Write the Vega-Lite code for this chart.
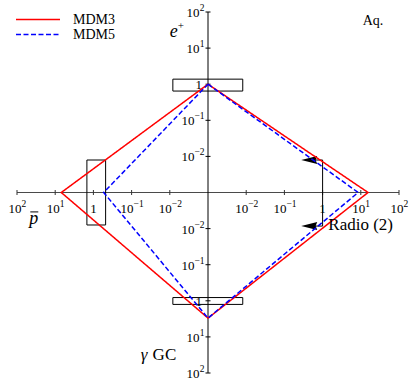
{
  "$schema": "https://vega.github.io/schema/vega-lite/v6.json",
  "width": 382,
  "height": 361,
  "autosize": {"type": "none"},
  "padding": {"left": 17, "top": 12, "right": 11, "bottom": 8},
  "config": {"view": {"stroke": null}, "font": "Liberation Serif"},
  "datasets": {
    "curves": [
      {"model": "MDM3", "seq": 0, "x": 0, "y": 3.0},
      {"model": "MDM3", "seq": 1, "x": 4.19, "y": 0},
      {"model": "MDM3", "seq": 2, "x": 0, "y": -3.48},
      {"model": "MDM3", "seq": 3, "x": -3.84, "y": 0},
      {"model": "MDM3", "seq": 4, "x": 0, "y": 3.0},
      {"model": "MDM5", "seq": 0, "x": 0, "y": 3.0},
      {"model": "MDM5", "seq": 1, "x": 3.93, "y": 0},
      {"model": "MDM5", "seq": 2, "x": 0, "y": -3.48},
      {"model": "MDM5", "seq": 3, "x": -2.73, "y": 0},
      {"model": "MDM5", "seq": 4, "x": 0, "y": 3.0}
    ],
    "axes": [
      {"dir": "h", "x": -5, "x2": 5, "y": 0, "y2": 0},
      {"dir": "v", "x": 0, "x2": 0, "y": -5, "y2": 5}
    ],
    "xticks": [
      {"x": -5, "base": "10", "exp": "2"}, {"x": -4, "base": "10", "exp": "1"}, {"x": -3, "base": "1", "exp": ""},
      {"x": -2, "base": "10", "exp": "−1"}, {"x": -1, "base": "10", "exp": "−2"},
      {"x": 1, "base": "10", "exp": "−2"}, {"x": 2, "base": "10", "exp": "−1"}, {"x": 3, "base": "1", "exp": ""},
      {"x": 4, "base": "10", "exp": "1"}, {"x": 5, "base": "10", "exp": "2"}
    ],
    "yticks": [
      {"y": 5, "base": "10", "exp": "2"}, {"y": 4, "base": "10", "exp": "1"}, {"y": 3, "base": "1", "exp": ""},
      {"y": 2, "base": "10", "exp": "−1"}, {"y": 1, "base": "10", "exp": "−2"},
      {"y": -1, "base": "10", "exp": "−2"}, {"y": -2, "base": "10", "exp": "−1"}, {"y": -3, "base": "1", "exp": ""},
      {"y": -4, "base": "10", "exp": "1"}, {"y": -5, "base": "10", "exp": "2"}
    ],
    "boxes": [
      {"x": -0.92, "x2": 0.91, "y": 2.81, "y2": 3.14},
      {"x": -3.17, "x2": -2.68, "y": -0.9, "y2": 0.9},
      {"x": -0.92, "x2": 0.91, "y": -3.10, "y2": -2.91}
    ],
    "links": [
      {"x": 3.0, "x2": 3.0, "y": 0.9, "y2": -0.93},
      {"x": 2.62, "x2": 3.0, "y": 0.9, "y2": 0.9},
      {"x": 2.62, "x2": 3.0, "y": -0.93, "y2": -0.93}
    ],
    "heads": [
      {"x": 2.65, "y": 0.9},
      {"x": 2.65, "y": -0.93}
    ],
    "notes": [
      {"text": "p̄", "x": -4.56, "y": -0.87},
      {"text": "e⁺", "x": -0.83, "y": 4.31},
      {"text": "γ", "x": -1.76, "y": -4.64},
      {"text": "GC", "x": -1.45, "y": -4.64},
      {"text": "Radio (2)", "x": 3.15, "y": -1.04},
      {"text": "Aq.", "x": 4.05, "y": 4.64}
    ]
  },
  "layer": [
    {
      "data": {"name": "axes"},
      "transform": [{"filter": "datum.dir === 'h'"}],
      "mark": {"type": "rule", "color": "#4a4a4a", "strokeWidth": 1.2},
      "encoding": {
        "x": {"field": "x", "type": "quantitative", "scale": {"domain": [-5, 5], "nice": false, "zero": false}, "axis": null},
        "y": {"field": "y", "type": "quantitative", "scale": {"domain": [-5, 5], "nice": false, "zero": false}, "axis": null},
        "x2": {"field": "x2"}, "y2": {"field": "y2"}
      }
    },
    {
      "data": {"name": "axes"},
      "transform": [{"filter": "datum.dir === 'v'"}],
      "mark": {"type": "rule", "color": "black", "strokeWidth": 1},
      "encoding": {
        "x": {"field": "x", "type": "quantitative", "scale": {"domain": [-5, 5], "nice": false, "zero": false}, "axis": null},
        "y": {"field": "y", "type": "quantitative", "scale": {"domain": [-5, 5], "nice": false, "zero": false}, "axis": null},
        "x2": {"field": "x2"}, "y2": {"field": "y2"}
      }
    },
    {
      "data": {"name": "xticks"},
      "mark": {"type": "tick", "orient": "vertical", "size": 5, "thickness": 1, "color": "#333", "opacity": 1},
      "encoding": {
        "x": {"field": "x", "type": "quantitative", "scale": {"domain": [-5, 5], "nice": false, "zero": false}, "axis": null},
        "y": {"datum": 0, "type": "quantitative", "scale": {"domain": [-5, 5], "nice": false, "zero": false}, "axis": null}
      }
    },
    {
      "data": {"name": "yticks"},
      "mark": {"type": "tick", "orient": "horizontal", "size": 5, "thickness": 1, "color": "black", "opacity": 1},
      "encoding": {
        "x": {"datum": 0, "type": "quantitative", "scale": {"domain": [-5, 5], "nice": false, "zero": false}, "axis": null},
        "y": {"field": "y", "type": "quantitative", "scale": {"domain": [-5, 5], "nice": false, "zero": false}, "axis": null}
      }
    },
    {
      "data": {"name": "xticks"},
      "transform": [{"filter": "datum.exp.length === 1"}],
      "mark": {"type": "text", "font": "Liberation Serif", "fontSize": 13, "align": "right", "baseline": "alphabetic", "dx": 4.5, "dy": 20.5, "color": "black"},
      "encoding": {
        "x": {"field": "x", "type": "quantitative", "scale": {"domain": [-5, 5], "nice": false, "zero": false}, "axis": null},
        "y": {"datum": 0, "type": "quantitative", "scale": {"domain": [-5, 5], "nice": false, "zero": false}, "axis": null},
        "text": {"field": "base"}
      }
    },
    {
      "data": {"name": "xticks"},
      "transform": [{"filter": "datum.exp.length === 1"}],
      "mark": {"type": "text", "font": "Liberation Serif", "fontSize": 9.5, "align": "left", "baseline": "alphabetic", "dx": 4.5, "dy": 14.5, "color": "black"},
      "encoding": {
        "x": {"field": "x", "type": "quantitative", "scale": {"domain": [-5, 5], "nice": false, "zero": false}, "axis": null},
        "y": {"datum": 0, "type": "quantitative", "scale": {"domain": [-5, 5], "nice": false, "zero": false}, "axis": null},
        "text": {"field": "exp"}
      }
    },
    {
      "data": {"name": "xticks"},
      "transform": [{"filter": "datum.exp.length === 2"}],
      "mark": {"type": "text", "font": "Liberation Serif", "fontSize": 13, "align": "right", "baseline": "alphabetic", "dx": 2, "dy": 20.5, "color": "black"},
      "encoding": {
        "x": {"field": "x", "type": "quantitative", "scale": {"domain": [-5, 5], "nice": false, "zero": false}, "axis": null},
        "y": {"datum": 0, "type": "quantitative", "scale": {"domain": [-5, 5], "nice": false, "zero": false}, "axis": null},
        "text": {"field": "base"}
      }
    },
    {
      "data": {"name": "xticks"},
      "transform": [{"filter": "datum.exp.length === 2"}],
      "mark": {"type": "text", "font": "Liberation Serif", "fontSize": 9.5, "align": "left", "baseline": "alphabetic", "dx": 2, "dy": 14.5, "color": "black"},
      "encoding": {
        "x": {"field": "x", "type": "quantitative", "scale": {"domain": [-5, 5], "nice": false, "zero": false}, "axis": null},
        "y": {"datum": 0, "type": "quantitative", "scale": {"domain": [-5, 5], "nice": false, "zero": false}, "axis": null},
        "text": {"field": "exp"}
      }
    },
    {
      "data": {"name": "xticks"},
      "transform": [{"filter": "datum.exp.length === 0"}],
      "mark": {"type": "text", "font": "Liberation Serif", "fontSize": 13, "align": "center", "baseline": "alphabetic", "dy": 20.5, "color": "black"},
      "encoding": {
        "x": {"field": "x", "type": "quantitative", "scale": {"domain": [-5, 5], "nice": false, "zero": false}, "axis": null},
        "y": {"datum": 0, "type": "quantitative", "scale": {"domain": [-5, 5], "nice": false, "zero": false}, "axis": null},
        "text": {"field": "base"}
      }
    },
    {
      "data": {"name": "yticks"},
      "transform": [{"filter": "datum.exp.length === 1"}],
      "mark": {"type": "text", "font": "Liberation Serif", "fontSize": 13, "align": "right", "baseline": "alphabetic", "dx": -8.5, "dy": 5, "color": "black"},
      "encoding": {
        "x": {"datum": 0, "type": "quantitative", "scale": {"domain": [-5, 5], "nice": false, "zero": false}, "axis": null},
        "y": {"field": "y", "type": "quantitative", "scale": {"domain": [-5, 5], "nice": false, "zero": false}, "axis": null},
        "text": {"field": "base"}
      }
    },
    {
      "data": {"name": "yticks"},
      "transform": [{"filter": "datum.exp.length === 1"}],
      "mark": {"type": "text", "font": "Liberation Serif", "fontSize": 9.5, "align": "right", "baseline": "alphabetic", "dx": -3.5, "dy": -1, "color": "black"},
      "encoding": {
        "x": {"datum": 0, "type": "quantitative", "scale": {"domain": [-5, 5], "nice": false, "zero": false}, "axis": null},
        "y": {"field": "y", "type": "quantitative", "scale": {"domain": [-5, 5], "nice": false, "zero": false}, "axis": null},
        "text": {"field": "exp"}
      }
    },
    {
      "data": {"name": "yticks"},
      "transform": [{"filter": "datum.exp.length === 2"}],
      "mark": {"type": "text", "font": "Liberation Serif", "fontSize": 13, "align": "right", "baseline": "alphabetic", "dx": -13.5, "dy": 5, "color": "black"},
      "encoding": {
        "x": {"datum": 0, "type": "quantitative", "scale": {"domain": [-5, 5], "nice": false, "zero": false}, "axis": null},
        "y": {"field": "y", "type": "quantitative", "scale": {"domain": [-5, 5], "nice": false, "zero": false}, "axis": null},
        "text": {"field": "base"}
      }
    },
    {
      "data": {"name": "yticks"},
      "transform": [{"filter": "datum.exp.length === 2"}],
      "mark": {"type": "text", "font": "Liberation Serif", "fontSize": 9.5, "align": "right", "baseline": "alphabetic", "dx": -3.5, "dy": -1, "color": "black"},
      "encoding": {
        "x": {"datum": 0, "type": "quantitative", "scale": {"domain": [-5, 5], "nice": false, "zero": false}, "axis": null},
        "y": {"field": "y", "type": "quantitative", "scale": {"domain": [-5, 5], "nice": false, "zero": false}, "axis": null},
        "text": {"field": "exp"}
      }
    },
    {
      "data": {"name": "yticks"},
      "transform": [{"filter": "datum.exp.length === 0"}],
      "mark": {"type": "text", "font": "Liberation Serif", "fontSize": 13, "align": "right", "baseline": "alphabetic", "dx": -6, "dy": 5, "color": "black"},
      "encoding": {
        "x": {"datum": 0, "type": "quantitative", "scale": {"domain": [-5, 5], "nice": false, "zero": false}, "axis": null},
        "y": {"field": "y", "type": "quantitative", "scale": {"domain": [-5, 5], "nice": false, "zero": false}, "axis": null},
        "text": {"field": "base"}
      }
    },
    {
      "data": {"name": "boxes"},
      "mark": {"type": "rect", "filled": false, "stroke": "black", "strokeWidth": 1},
      "encoding": {
        "x": {"field": "x", "type": "quantitative", "scale": {"domain": [-5, 5], "nice": false, "zero": false}, "axis": null},
        "y": {"field": "y", "type": "quantitative", "scale": {"domain": [-5, 5], "nice": false, "zero": false}, "axis": null},
        "x2": {"field": "x2"}, "y2": {"field": "y2"}
      }
    },
    {
      "data": {"name": "links"},
      "mark": {"type": "rule", "color": "black", "strokeWidth": 1},
      "encoding": {
        "x": {"field": "x", "type": "quantitative", "scale": {"domain": [-5, 5], "nice": false, "zero": false}, "axis": null},
        "y": {"field": "y", "type": "quantitative", "scale": {"domain": [-5, 5], "nice": false, "zero": false}, "axis": null},
        "x2": {"field": "x2"}, "y2": {"field": "y2"}
      }
    },
    {
      "data": {"name": "heads"},
      "mark": {"type": "point", "shape": "M-1,0L1,-0.5L0.8,0L1,0.5Z", "filled": true, "color": "black", "size": 256, "opacity": 1, "strokeWidth": 0},
      "encoding": {
        "x": {"field": "x", "type": "quantitative", "scale": {"domain": [-5, 5], "nice": false, "zero": false}, "axis": null},
        "y": {"field": "y", "type": "quantitative", "scale": {"domain": [-5, 5], "nice": false, "zero": false}, "axis": null}
      }
    },
    {
      "data": {"name": "curves"},
      "mark": {"type": "line", "strokeWidth": 1.5},
      "encoding": {
        "x": {"field": "x", "type": "quantitative", "scale": {"domain": [-5, 5], "nice": false, "zero": false}, "axis": null},
        "y": {"field": "y", "type": "quantitative", "scale": {"domain": [-5, 5], "nice": false, "zero": false}, "axis": null},
        "order": {"field": "seq", "type": "quantitative"},
        "color": {
          "field": "model", "type": "nominal",
          "scale": {"domain": ["MDM3", "MDM5"], "range": ["#ff0000", "#0000ff"]},
          "legend": {"title": null, "orient": "none", "legendX": -2, "legendY": 0, "symbolType": "stroke", "symbolSize": 1936, "symbolStrokeWidth": 1.5, "clipHeight": 15, "rowPadding": 0, "labelOffset": 12, "labelFont": "Liberation Serif", "labelFontSize": 14, "labelColor": "black", "padding": 0}
        },
        "strokeDash": {
          "field": "model", "type": "nominal",
          "scale": {"domain": ["MDM3", "MDM5"], "range": [[1, 0], [5, 2.5]]},
          "legend": {"title": null, "orient": "none", "legendX": -2, "legendY": 0, "symbolType": "stroke", "symbolSize": 1936, "symbolStrokeWidth": 1.5, "clipHeight": 15, "rowPadding": 0, "labelOffset": 12, "labelFont": "Liberation Serif", "labelFontSize": 14, "labelColor": "black", "padding": 0}
        }
      }
    },
    {
      "data": {"name": "notes"},
      "transform": [{"filter": "datum.text === 'p̄'"}],
      "mark": {"type": "text", "text": "p", "font": "Liberation Serif", "fontStyle": "italic", "fontSize": 18, "align": "center", "baseline": "alphabetic", "color": "black"},
      "encoding": {
        "x": {"field": "x", "type": "quantitative", "scale": {"domain": [-5, 5], "nice": false, "zero": false}, "axis": null},
        "y": {"field": "y", "type": "quantitative", "scale": {"domain": [-5, 5], "nice": false, "zero": false}, "axis": null}
      }
    },
    {
      "data": {"name": "notes"},
      "transform": [{"filter": "datum.text === 'p̄'"}],
      "mark": {"type": "rule", "color": "black", "strokeWidth": 1, "xOffset": -3.5, "x2Offset": 4.5, "yOffset": -12, "y2Offset": -12},
      "encoding": {
        "x": {"field": "x", "type": "quantitative", "scale": {"domain": [-5, 5], "nice": false, "zero": false}, "axis": null},
        "y": {"field": "y", "type": "quantitative", "scale": {"domain": [-5, 5], "nice": false, "zero": false}, "axis": null},
        "x2": {"field": "x"}, "y2": {"field": "y"}
      }
    },
    {
      "data": {"name": "notes"},
      "transform": [{"filter": "datum.text === 'e⁺'"}],
      "mark": {"type": "text", "text": "e", "font": "Liberation Serif", "fontStyle": "italic", "fontSize": 18, "align": "right", "baseline": "alphabetic", "dx": 1.5, "color": "black"},
      "encoding": {
        "x": {"field": "x", "type": "quantitative", "scale": {"domain": [-5, 5], "nice": false, "zero": false}, "axis": null},
        "y": {"field": "y", "type": "quantitative", "scale": {"domain": [-5, 5], "nice": false, "zero": false}, "axis": null}
      }
    },
    {
      "data": {"name": "notes"},
      "transform": [{"filter": "datum.text === 'e⁺'"}],
      "mark": {"type": "text", "text": "+", "font": "Liberation Serif", "fontSize": 11, "align": "left", "baseline": "alphabetic", "dx": 1.5, "dy": -8, "color": "black"},
      "encoding": {
        "x": {"field": "x", "type": "quantitative", "scale": {"domain": [-5, 5], "nice": false, "zero": false}, "axis": null},
        "y": {"field": "y", "type": "quantitative", "scale": {"domain": [-5, 5], "nice": false, "zero": false}, "axis": null}
      }
    },
    {
      "data": {"name": "notes"},
      "transform": [{"filter": "datum.text === 'γ'"}],
      "mark": {"type": "text", "font": "Liberation Serif", "fontStyle": "italic", "fontSize": 17, "align": "left", "baseline": "alphabetic", "color": "black"},
      "encoding": {
        "x": {"field": "x", "type": "quantitative", "scale": {"domain": [-5, 5], "nice": false, "zero": false}, "axis": null},
        "y": {"field": "y", "type": "quantitative", "scale": {"domain": [-5, 5], "nice": false, "zero": false}, "axis": null},
        "text": {"field": "text"}
      }
    },
    {
      "data": {"name": "notes"},
      "transform": [{"filter": "datum.text === 'GC' || datum.text === 'Radio (2)'"}],
      "mark": {"type": "text", "font": "Liberation Serif", "fontSize": 17, "align": "left", "baseline": "alphabetic", "color": "black"},
      "encoding": {
        "x": {"field": "x", "type": "quantitative", "scale": {"domain": [-5, 5], "nice": false, "zero": false}, "axis": null},
        "y": {"field": "y", "type": "quantitative", "scale": {"domain": [-5, 5], "nice": false, "zero": false}, "axis": null},
        "text": {"field": "text"}
      }
    },
    {
      "data": {"name": "notes"},
      "transform": [{"filter": "datum.text === 'Aq.'"}],
      "mark": {"type": "text", "font": "Liberation Serif", "fontSize": 14, "align": "left", "baseline": "alphabetic", "color": "black"},
      "encoding": {
        "x": {"field": "x", "type": "quantitative", "scale": {"domain": [-5, 5], "nice": false, "zero": false}, "axis": null},
        "y": {"field": "y", "type": "quantitative", "scale": {"domain": [-5, 5], "nice": false, "zero": false}, "axis": null},
        "text": {"field": "text"}
      }
    }
  ]
}
